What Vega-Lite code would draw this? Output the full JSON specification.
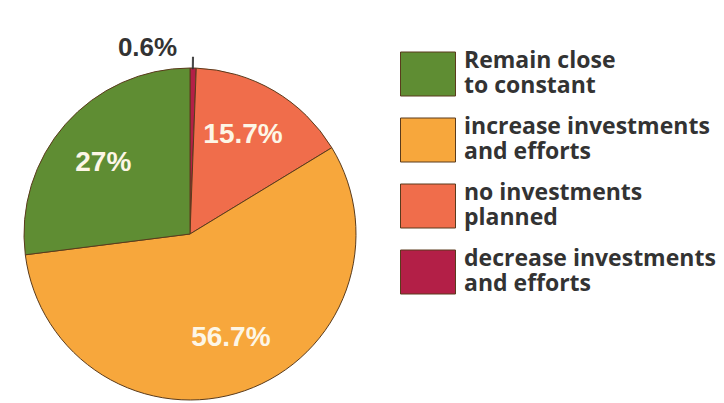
{
  "$schema": "https://vega.github.io/schema/vega-lite/v6.json",
  "width": 332,
  "height": 332,
  "autosize": "none",
  "padding": {"left": 24, "top": 68, "right": 368, "bottom": 3},
  "background": "white",
  "config": {"view": {"stroke": null}},
  "datasets": {
    "shares": [
      {"category": "decrease investments|and efforts", "share": 0.6, "label": "0.6%", "rank": 1},
      {"category": "no investments|planned", "share": 15.7, "label": "15.7%", "rank": 2},
      {"category": "increase investments|and efforts", "share": 56.7, "label": "56.7%", "rank": 3},
      {"category": "Remain close|to constant", "share": 27, "label": "27%", "rank": 4}
    ],
    "leader": [{"from": 0.22, "to": 0.32}]
  },
  "layer": [
    {
      "data": {"name": "shares"},
      "mark": {"type": "arc", "stroke": "#5a3b1c", "strokeWidth": 1},
      "encoding": {
        "theta": {"field": "share", "type": "quantitative", "stack": true, "scale": {"domain": [0, 100]}},
        "order": {"field": "rank", "type": "quantitative"},
        "color": {
          "field": "category",
          "type": "nominal",
          "scale": {
            "domain": ["Remain close|to constant", "increase investments|and efforts", "no investments|planned", "decrease investments|and efforts"],
            "range": ["#5f8d33", "#f7a73c", "#f06d4b", "#b31f47"]
          },
          "legend": {
            "title": null,
            "orient": "none",
            "legendX": 376,
            "legendY": -22,
            "padding": 0,
            "symbolType": "M-1,-0.8H1V0.8H-1Z",
            "symbolSize": 3025,
            "symbolStrokeColor": "#5a3b1c",
            "symbolStrokeWidth": 1,
            "symbolOpacity": 1,
            "labelExpr": "split(datum.label, '|')",
            "labelFont": "Open Sans",
            "labelFontWeight": "bold",
            "labelFontSize": 23,
            "labelLineHeight": 23,
            "labelColor": "#333333",
            "labelOffset": 8,
            "labelLimit": 400,
            "labelBaseline": "line-bottom",
            "rowPadding": 14
          }
        }
      }
    },
    {
      "data": {"name": "shares"},
      "transform": [{"filter": "datum.rank > 1"}],
      "mark": {"type": "text", "radius": 112, "font": "Liberation Sans", "fontWeight": "bold", "fontSize": 28, "fill": "#fdf6e6"},
      "encoding": {
        "theta": {"field": "share", "type": "quantitative", "stack": true},
        "order": {"field": "rank", "type": "quantitative"},
        "text": {"field": "label"}
      }
    },
    {
      "data": {"name": "shares"},
      "transform": [{"filter": "datum.rank == 1"}],
      "mark": {"type": "text", "radius": 186, "dx": -46, "font": "Liberation Sans", "fontWeight": "bold", "fontSize": 26, "fill": "#333333"},
      "encoding": {
        "theta": {"field": "share", "type": "quantitative", "stack": true},
        "order": {"field": "rank", "type": "quantitative"},
        "text": {"field": "label"}
      }
    },
    {
      "data": {"name": "leader"},
      "mark": {"type": "arc", "radius": 177, "radius2": 165, "fill": "#333333", "stroke": "#333333", "strokeWidth": 0.8},
      "encoding": {
        "theta": {"field": "from", "type": "quantitative"},
        "theta2": {"field": "to"}
      }
    }
  ]
}
